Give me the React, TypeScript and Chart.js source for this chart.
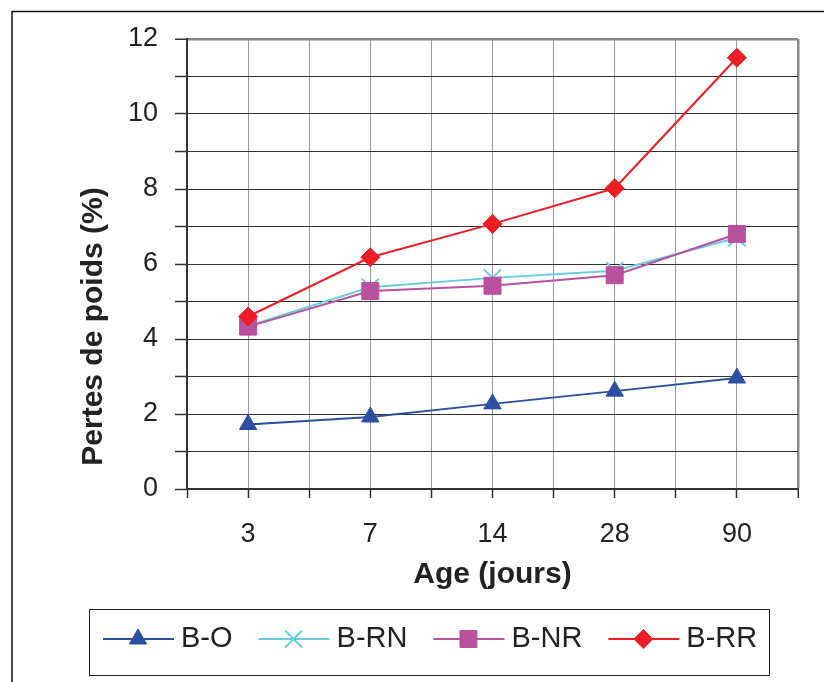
import { useEffect, useRef } from 'react';
import { Chart, registerables } from 'chart.js';

Chart.register(...registerables);

const categories = ['3', '7', '14', '28', '90'];
const seriesNames = ['B-O', 'B-RN', 'B-NR', 'B-RR'];
const seriesColors = ['#2C4FA2', '#6ACCDD', '#B9519F', '#EE1C25'];
const seriesMarkers = ['triangle', 'crossRot', 'rect', 'rectRot'];
const markerRadius = [10, 12, 12, 9.5];
const drawOrder = [3, 2, 1, 0];
const bO = [1.72, 1.92, 2.27, 2.61, 2.96];
const bRN = [4.35, 5.38, 5.63, 5.82, 6.7];
const bNR = [4.33, 5.28, 5.42, 5.7, 6.8];
const bRR = [4.6, 6.18, 7.07, 8.02, 11.5];
const seriesValues = [bO, bRN, bNR, bRR];
const yTickLabels = [0, 2, 4, 6, 8, 10, 12];
const xTitle = 'Age (jours)';
const yTitle = 'Pertes de poids (%)';

const FONT = '"Liberation Sans", Arial, sans-serif';

function drawMarker(ctx: CanvasRenderingContext2D, style: string, x: number, y: number, r: number, color: string) {
  ctx.save();
  ctx.fillStyle = color;
  ctx.strokeStyle = color;
  ctx.lineWidth = style === 'crossRot' ? 2 : 1;
  ctx.beginPath();
  if (style === 'triangle') {
    ctx.moveTo(x, y - r);
    ctx.lineTo(x + r * Math.sin(Math.PI / 3), y + r / 2);
    ctx.lineTo(x - r * Math.sin(Math.PI / 3), y + r / 2);
    ctx.closePath();
    ctx.fill();
    ctx.stroke();
  } else if (style === 'rect') {
    const s = r * Math.SQRT1_2;
    ctx.rect(x - s, y - s, 2 * s, 2 * s);
    ctx.fill();
    ctx.stroke();
  } else if (style === 'rectRot') {
    ctx.moveTo(x, y - r);
    ctx.lineTo(x + r, y);
    ctx.lineTo(x, y + r);
    ctx.lineTo(x - r, y);
    ctx.closePath();
    ctx.fill();
    ctx.stroke();
  } else {
    const d = r * Math.SQRT1_2;
    ctx.moveTo(x - d, y - d);
    ctx.lineTo(x + d, y + d);
    ctx.moveTo(x + d, y - d);
    ctx.lineTo(x - d, y + d);
    ctx.stroke();
  }
  ctx.restore();
}

const decorPlugin = {
  id: 'decor',
  beforeDraw(chart: any) {
    const ctx = chart.ctx as CanvasRenderingContext2D;
    ctx.save();
    ctx.fillStyle = '#ffffff';
    ctx.fillRect(0, 0, chart.width, chart.height);
    ctx.strokeStyle = '#111111';
    ctx.lineWidth = 1.5;
    ctx.strokeRect(12, 11.5, chart.width + 20, chart.height + 20);
    ctx.restore();
  },
  afterDraw(chart: any) {
    const ctx = chart.ctx as CanvasRenderingContext2D;
    ctx.save();
    // y title
    ctx.fillStyle = '#222222';
    ctx.font = `bold 30px ${FONT}`;
    ctx.textAlign = 'center';
    ctx.textBaseline = 'alphabetic';
    ctx.translate(102, 326.5);
    ctx.rotate(-Math.PI / 2);
    ctx.fillText(yTitle, 0, 0);
    ctx.restore();

    // legend
    ctx.save();
    ctx.strokeStyle = '#222222';
    ctx.lineWidth = 1;
    ctx.strokeRect(89.5, 609.5, 680, 66);
    ctx.font = `29px ${FONT}`;
    ctx.textBaseline = 'alphabetic';
    ctx.textAlign = 'left';
    let x = 103;
    const yMid = 639;
    chart.data.datasets.forEach((ds: any, i: number) => {
      ctx.strokeStyle = ds.borderColor;
      ctx.lineWidth = 2;
      ctx.beginPath();
      ctx.moveTo(x, yMid);
      ctx.lineTo(x + 71, yMid);
      ctx.stroke();
      drawMarker(ctx, ds.pointStyle, x + 35, yMid, ds.pointRadius, ds.borderColor);
      ctx.fillStyle = '#222222';
      ctx.fillText(ds.label, x + 78, 646.5);
      x += 78 + ctx.measureText(ds.label).width + 26;
    });
    ctx.restore();
  },
};

export default function App() {
  const ref = useRef<HTMLCanvasElement | null>(null);

  useEffect(() => {
    if (!ref.current) return;
    const datasets = seriesNames.map((name, i) => ({
      label: name,
      data: seriesValues[i].map((v, j) => ({ x: j, y: v })),
      borderColor: seriesColors[i],
      backgroundColor: seriesColors[i],
      pointBackgroundColor: seriesColors[i],
      pointBorderColor: seriesColors[i],
      pointStyle: seriesMarkers[i],
      pointRadius: markerRadius[i],
      pointBorderWidth: seriesMarkers[i] === 'crossRot' ? 2 : 1,
      borderWidth: 2,
      tension: 0,
      order: drawOrder[i],
      clip: false as any,
    }));

    const chart = new Chart(ref.current, {
      type: 'line',
      data: { datasets },
      options: {
        responsive: false,
        animation: false,
        layout: { padding: { left: 0, top: 39, right: 26, bottom: 0 } },
        plugins: {
          legend: { display: false },
          tooltip: { enabled: false },
        },
        scales: {
          x: {
            type: 'linear',
            min: -0.5,
            max: 4.5,
            afterFit: (scale: any) => {
              scale.height = 193;
            },
            ticks: {
              stepSize: 0.5,
              autoSkip: false,
              maxRotation: 0,
              padding: 20,
              color: '#222222',
              font: { family: FONT, size: 27 },
              callback: (value: any) => (Number.isInteger(value) ? categories[value] : ''),
            },
            grid: {
              color: (c: any) => (c.tick && Math.abs(c.tick.value - 4.5) < 1e-6 ? '#888888' : '#9a9a9a'),
              lineWidth: (c: any) => (c.tick && Math.abs(c.tick.value - 4.5) < 1e-6 ? 2.5 : 1),
              tickColor: '#333333',
              tickLength: 9,
              tickWidth: 1.5,
            },
            border: { color: '#333333', width: 2 },
            title: {
              display: true,
              text: xTitle,
              color: '#222222',
              font: { family: FONT, size: 30, weight: 'bold' },
              padding: { top: 0, bottom: 89 },
            },
          },
          y: {
            type: 'linear',
            min: 0,
            max: 12,
            afterFit: (scale: any) => {
              scale.width = 187;
            },
            ticks: {
              stepSize: 1,
              padding: 17,
              color: '#222222',
              font: { family: FONT, size: 27 },
              callback: (value: any) => (yTickLabels.includes(value) ? String(value) : ''),
            },
            grid: {
              color: (c: any) => (c.tick && c.tick.value === 12 ? '#888888' : '#333333'),
              lineWidth: (c: any) => (c.tick && c.tick.value === 12 ? 2.5 : 1),
              tickColor: '#333333',
              tickLength: 12,
              tickWidth: 1.5,
            },
            border: { color: '#333333', width: 2 },
          },
        },
      } as any,
      plugins: [decorPlugin],
    });
    return () => chart.destroy();
  }, []);

  return (
    <div style={{ position: 'absolute', left: 0, top: 0, width: 824, height: 682 }}>
      <canvas ref={ref} width={824} height={682} style={{ display: 'block', width: 824, height: 682 }} />
    </div>
  );
}
